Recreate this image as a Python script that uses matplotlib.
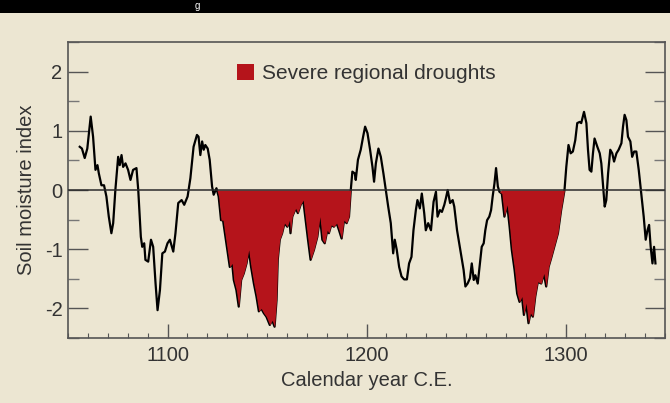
import matplotlib
matplotlib.use("Agg")
import matplotlib.pyplot as plt
import numpy as np
from matplotlib.patches import Patch, Rectangle
from matplotlib.ticker import MultipleLocator

plt.rcParams['font.family'] = ['Liberation Sans', 'DejaVu Sans']

# soil moisture index
years = [1055.9, 1057.0, 1058.4, 1059.7, 1061.4, 1062.6, 1063.8, 1064.8, 1065.5, 1066.8,
         1068.1, 1069.3, 1070.5, 1071.8, 1072.7, 1073.8, 1075.2, 1076.0, 1076.9, 1077.7,
         1078.9, 1080.2, 1081.4, 1082.7, 1084.4, 1085.3, 1086.6, 1087.3, 1088.3, 1088.9,
         1090.3, 1091.7, 1092.8, 1094.0, 1095.0, 1096.2, 1097.4, 1098.7, 1100.0, 1101.2,
         1102.9, 1104.0, 1105.4, 1107.1, 1108.4, 1110.1, 1111.5, 1113.1, 1114.8, 1115.6,
         1116.5, 1117.4, 1118.2, 1119.0, 1120.2, 1121.2, 1122.4, 1123.2, 1124.6, 1125.7,
         1126.9, 1127.9, 1129.1, 1130.3, 1131.3, 1132.5, 1133.3, 1134.6, 1135.8, 1137.0,
         1138.3, 1139.7, 1140.8, 1142.0, 1143.4, 1144.7, 1145.9, 1147.1, 1148.4, 1149.7,
         1151.4, 1152.6, 1153.8, 1154.8, 1155.4, 1156.4, 1157.6, 1158.8, 1160.2, 1161.3,
         1161.8, 1162.7, 1164.4, 1165.5, 1166.9, 1168.2, 1169.4, 1170.6, 1171.9, 1173.6,
         1175.3, 1176.6, 1177.8, 1179.0, 1180.3, 1181.1, 1182.3, 1183.6, 1185.0, 1186.2,
         1187.5, 1188.7, 1190.0, 1191.2, 1192.1, 1192.9, 1194.1, 1194.6, 1195.7, 1197.1,
         1198.3, 1199.3, 1200.5, 1201.8, 1203.0, 1203.8, 1204.7, 1206.0, 1207.2, 1208.5,
         1209.7, 1210.9, 1212.2, 1213.4, 1214.2, 1215.2, 1216.4, 1217.6, 1218.9, 1220.3,
         1221.4, 1222.6, 1223.6, 1224.8, 1225.6, 1226.8, 1227.8, 1229.0, 1229.8, 1231.0,
         1232.4, 1233.7, 1234.9, 1235.7, 1236.9, 1237.9, 1239.1, 1239.9, 1240.8, 1242.0,
         1243.3, 1244.1, 1245.5, 1246.6, 1247.8, 1248.8, 1249.7, 1250.8, 1252.0, 1252.9,
         1253.9, 1254.7, 1255.9, 1257.0, 1257.9, 1258.9, 1259.7, 1260.6, 1261.7, 1262.6,
         1263.4, 1264.3, 1265.1, 1266.0, 1266.8, 1268.0, 1269.3, 1270.7, 1271.9, 1273.0,
         1274.4, 1275.7, 1276.9, 1278.1, 1279.1, 1280.2, 1281.4, 1282.4, 1283.6, 1284.8,
         1286.1, 1287.8, 1289.1, 1290.3, 1291.5, 1292.8, 1294.4, 1296.2, 1297.8, 1299.5,
         1300.4, 1301.5, 1302.6, 1303.7, 1304.9, 1305.9, 1307.1, 1307.9, 1309.3, 1310.5,
         1311.3, 1312.1, 1313.0, 1313.8, 1314.6, 1316.0, 1317.2, 1318.0, 1318.9, 1319.7,
         1320.5, 1321.4, 1322.5, 1323.5, 1324.4, 1325.6, 1326.7, 1328.1, 1328.9, 1329.7,
         1330.6, 1331.4, 1332.6, 1333.5, 1334.5, 1335.6, 1336.8, 1338.2, 1339.3, 1340.3,
         1341.2, 1342.0, 1342.8, 1343.7, 1344.5, 1345.2]
moisture = [0.73, 0.70, 0.54, 0.70, 1.24, 0.90, 0.34, 0.42, 0.28, 0.08,
            0.08, -0.11, -0.45, -0.73, -0.56, 0.0, 0.56, 0.42, 0.59, 0.39,
            0.45, 0.34, 0.17, 0.34, 0.37, 0.0, -0.79, -0.96, -0.90, -1.18,
            -1.21, -0.84, -0.96, -1.58, -2.03, -1.69, -1.07, -1.04, -0.90, -0.84,
            -1.04, -0.73, -0.22, -0.17, -0.25, -0.11, 0.20, 0.73, 0.93, 0.90,
            0.59, 0.82, 0.68, 0.76, 0.70, 0.51, 0.06, -0.08, 0.03, -0.11,
            -0.51, -0.51, -0.79, -1.07, -1.30, -1.24, -1.52, -1.69, -1.97, -1.52,
            -1.41, -1.24, -1.01, -1.30, -1.58, -1.80, -2.05, -2.00, -2.08, -2.14,
            -2.28, -2.20, -2.31, -1.86, -1.18, -0.84, -0.73, -0.56, -0.62, -0.51,
            -0.73, -0.45, -0.31, -0.39, -0.25, -0.17, -0.51, -0.84, -1.18, -1.01,
            -0.79, -0.45, -0.84, -0.90, -0.68, -0.73, -0.59, -0.62, -0.56, -0.68,
            -0.82, -0.51, -0.56, -0.45, 0.0, 0.31, 0.28, 0.17, 0.51, 0.68,
            0.90, 1.07, 0.96, 0.68, 0.39, 0.14, 0.45, 0.70, 0.56, 0.28,
            0.0, -0.28, -0.56, -1.07, -0.84, -1.01, -1.30, -1.46, -1.51, -1.51,
            -1.24, -1.13, -0.68, -0.34, -0.17, -0.31, -0.06, -0.39, -0.68, -0.56,
            -0.68, -0.20, -0.03, -0.45, -0.34, -0.37, -0.25, -0.14, 0.0, -0.22,
            -0.17, -0.28, -0.68, -0.90, -1.13, -1.35, -1.63, -1.58, -1.49, -1.24,
            -1.52, -1.44, -1.58, -1.24, -0.96, -0.90, -0.68, -0.51, -0.45, -0.34,
            -0.11, 0.11, 0.37, 0.06, -0.03, -0.06, -0.45, -0.25, -0.62, -1.01,
            -1.35, -1.75, -1.89, -1.80, -2.11, -1.91, -2.25, -2.08, -2.14, -1.80,
            -1.55, -1.58, -1.41, -1.63, -1.30, -1.15, -0.95, -0.73, -0.34, 0.0,
            0.39, 0.76, 0.62, 0.65, 0.84, 1.13, 1.15, 1.13, 1.32, 1.13,
            0.68, 0.34, 0.31, 0.62, 0.87, 0.73, 0.62, 0.45, 0.06, -0.28,
            -0.17, 0.28, 0.68, 0.62, 0.48, 0.62, 0.68, 0.79, 1.07, 1.27,
            1.18, 0.90, 0.82, 0.56, 0.65, 0.65, 0.34, -0.11, -0.45, -0.84,
            -0.68, -0.59, -0.96, -1.24, -0.96, -1.24]

drought_start = [1124, 1267]
drought_end = [1192.1, 1299.5]

bg = '#ece6d2'
red = '#b5141b'
txt = '#333333'

fig = plt.figure(figsize=(6.7, 4.03), dpi=100, facecolor=bg)
ax = fig.add_axes([68 / 670, 1 - 338 / 403, 597 / 670, 296 / 403])
ax.set_facecolor(bg)

# black banner at the top, with the tail of its (cut) heading
fig.patches.append(Rectangle((0, 1 - 13 / 403), 1, 13 / 403, transform=fig.transFigure,
                             facecolor='black', edgecolor='none', zorder=0))
fig.text(0.29, 0.998, 'g', color='white', fontsize=7, va='top')

yr = np.array(years)
val = np.array(moisture)

ax.plot(yr, val, color='black', lw=1.6, zorder=2)
for a, b in zip(drought_start, drought_end):
    mask = (yr >= a) & (yr <= b)
    ax.fill_between(yr, val, 0, where=mask & (val <= 0), interpolate=True,
                    color=red, lw=0, zorder=3)
ax.axhline(0, color='#2b2b2b', lw=1.1, zorder=4)

ax.set_xlim(1050, 1350)
ax.set_ylim(-2.5, 2.5)
ax.xaxis.set_major_locator(MultipleLocator(100))
ax.xaxis.set_minor_locator(MultipleLocator(10))
ax.yaxis.set_major_locator(MultipleLocator(1))
ax.yaxis.set_minor_locator(MultipleLocator(0.5))
ax.set_yticks([-2, -1, 0, 1, 2])
ax.set_yticklabels(['-2', '-1', '0', '1', '2'])

ax.tick_params(axis='x', which='major', direction='in', length=10, width=1, color='#555',
               labelsize=14.5, labelcolor=txt, pad=6)
ax.tick_params(axis='x', which='minor', direction='in', length=3.5, width=0.8, color='#555')
ax.tick_params(axis='y', which='major', direction='in', length=14.5, width=1, color='#555',
               labelsize=14.5, labelcolor=txt, pad=4, right=True)
ax.tick_params(axis='y', which='minor', direction='in', length=8, width=1, color='#777',
               right=True)

for s in ax.spines.values():
    s.set_color('#555555')
    s.set_linewidth(1.2)

ax.set_xlabel('Calendar year C.E.', fontsize=14.5, color=txt, labelpad=4)
ax.set_ylabel('Soil moisture index', fontsize=14.5, color=txt, labelpad=6)

ax.legend(handles=[Patch(facecolor=red, edgecolor='none', label='Severe regional droughts')],
          loc='upper left', bbox_to_anchor=(0.283, 0.925), frameon=False, fontsize=15,
          handlelength=0.8, handleheight=0.8, handletextpad=0.4, borderpad=0,
          borderaxespad=0, labelcolor=txt)

fig.savefig('out.png', dpi=100, facecolor=bg)
